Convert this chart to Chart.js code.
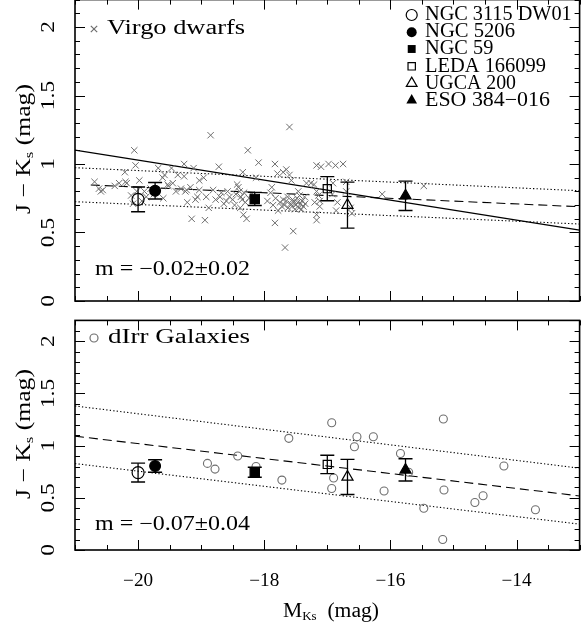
<!DOCTYPE html>
<html><head><meta charset="utf-8">
<script src="https://cdn.jsdelivr.net/npm/chart.js@4.4.0/dist/chart.umd.min.js"></script>
<style>
html,body{margin:0;padding:0;background:#fff;overflow:hidden}
#wrap{position:relative;width:588px;height:622px;background:#fff;overflow:hidden}
canvas{position:absolute;left:0}
#c1{top:-10px}
#c2{top:312px}
</style></head><body>
<div id="wrap"><canvas id="c1" width="588" height="322"></canvas><canvas id="c2" width="588" height="310"></canvas></div>
<script>
// ---------- data ----------
const galaxyNames = ['NGC 3115 DW01', 'NGC 5206', 'NGC 59', 'LEDA 166099', 'UGCA 200', 'ESO 384\u2212016'];
const galaxyX   = [-20.00, -19.73, -18.15, -17.00, -16.68, -15.76];
const galaxyY   = [0.742, 0.805, 0.745, 0.820, 0.700, 0.768];
const galaxyErr = [0.090, 0.060, 0.048, 0.088, 0.168, 0.107];

const virgoX = [-20.69,-20.62,-20.59,-20.56,-20.37,-20.21,-20.20,-20.18,-20.06,-20.04,-19.98,-20.11,-20.08,-20.02,-19.90,-19.87,-19.94,
 -19.68,-19.61,-19.58,-19.53,-19.47,-19.60,-19.52,-19.45,-19.40,-19.27,-19.27,-19.32,-19.25,-19.22,-19.23,-19.17,-19.12,-19.09,-19.03,-19.03,-19.15,-19.06,
 -18.96,-18.94,-18.88,-18.85,-18.81,-18.77,-18.72,-18.70,-18.64,-18.60,-18.55,-18.50,-18.45,-18.43,-18.41,-18.39,-18.37,-18.35,-18.34,-18.38,-18.33,-18.28,-18.26,-18.30,-18.13,-18.09,-18.20,
 -17.95,-17.90,-17.86,-17.83,-17.83,-17.82,-17.79,-17.75,-17.72,-17.70,-17.68,-17.67,-17.65,-17.65,-17.62,-17.60,-17.60,-17.58,-17.57,-17.56,-17.54,-17.53,-17.50,-17.48,-17.46,-17.45,-17.42,-17.40,-17.38,-17.36,-17.33,-17.26,-17.21,-17.17,-17.10,-17.17,-17.17,-17.12,-17.12,-17.20,
 -16.98,-16.87,-16.75,-16.84,-16.86,-16.92,-16.70,-16.70,-16.61,-16.63,-16.13,-15.47,
 -18.58,-18.47,-18.32,-18.24,-17.78,-17.70,-17.63,-17.55,-17.51,-17.47,-17.44,-17.41,-17.35,-19.80,-19.75,-18.92,-18.68,-20.30,-19.37,-17.88,-17.17,-17.14,-16.91];
const virgoY = [0.87,0.82,0.80,0.81,0.84,0.94,0.87,0.86,1.10,0.99,0.88,0.77,0.71,0.80,0.80,0.76,0.73,
 0.97,0.90,0.92,0.85,0.97,0.75,0.84,0.86,0.80,1.00,0.91,0.82,0.80,0.72,0.81,0.83,0.97,0.74,0.88,0.81,0.60,0.76,
 0.90,0.59,0.68,1.21,0.81,0.74,0.98,0.76,0.71,0.73,0.76,0.74,0.78,0.85,0.83,0.80,0.76,0.74,0.94,0.68,0.63,0.60,1.10,0.72,0.90,1.01,0.78,
 0.73,0.79,0.70,1.00,0.57,0.75,0.93,0.72,0.69,0.94,0.70,0.39,0.96,0.73,0.68,1.27,0.92,0.71,0.88,0.69,0.51,0.72,0.70,0.75,0.80,0.68,0.71,0.73,0.69,0.76,0.86,0.86,0.85,0.99,0.98,0.63,0.59,0.69,0.73,0.72,
 1.00,0.99,1.00,0.72,0.66,0.78,0.87,0.80,0.64,0.68,0.78,0.84,
 0.80,0.70,0.79,0.75,0.66,0.74,0.76,0.74,0.67,0.72,0.77,0.67,0.71,0.82,0.78,0.76,0.79,0.86,0.92,0.83,0.80,0.77,0.86];

const dIrrX = [-18.90,-18.78,-18.42,-18.13,-17.72,-17.61,-16.93,-16.53,-16.27,-16.57,-16.90,-16.93,-16.10,-15.84,-15.71,-15.47,-15.16,-15.15,-15.17,-14.66,-14.53,-14.20,-13.70];
const dIrrY = [0.830,0.775,0.900,0.800,0.670,1.070,1.220,1.085,1.085,0.990,0.690,0.590,0.565,0.925,0.745,0.400,1.255,0.575,0.100,0.455,0.520,0.805,0.385];

// fit lines (end points)
const fitX        = [-21, -13];
const topSolidY   = [1.102, 0.518];
const topDashX    = [-20.75, -13];
const topDashY    = [0.847, 0.688];
const topUpperY   = [0.973, 0.805];
const topLowerY   = [0.725, 0.562];
const botDashY    = [1.091, 0.518];
const botUpperY   = [1.380, 0.784];
const botLowerY   = [0.828, 0.248];

// axes
const xMin = -21, xMax = -13, yMin = 0, yMax = 2.2;
const xTickLabelValues = [-20, -18, -16, -14];
const xTickLabels = ['\u221220', '\u221218', '\u221216', '\u221214'];
const yTickLabelValues = [0, 0.5, 1, 1.5, 2];
const yTickLabels = ['0', '0.5', '1', '1.5', '2'];
const topSlopeText = 'm = \u22120.02\u00b10.02';
const botSlopeText = 'm = \u22120.07\u00b10.04';

// ---------- helpers ----------
const GRAY = 'rgb(110,110,110)';
const FONT = '"Liberation Serif", "DejaVu Serif", serif';
const pts = (xs, ys) => xs.map((x, i) => ({x: x, y: ys[i]}));

function errStems() {
  const d = [];
  galaxyX.forEach((x, i) => { d.push({x: x, y: galaxyY[i] - galaxyErr[i]}, {x: x, y: galaxyY[i] + galaxyErr[i]}, {x: x, y: null}); });
  return d;
}
function errCaps() {
  const d = [];
  galaxyX.forEach((x, i) => { d.push({x: x, y: galaxyY[i] - galaxyErr[i]}, {x: x, y: galaxyY[i] + galaxyErr[i]}); });
  return d;
}
const markStyle  = ['circle', 'circle', 'rect', 'rect', 'triangle', 'triangle'];
const markRadius = [6, 5.4, 6.6, 5.8, 6.4, 6.4];
const markFill   = ['rgba(0,0,0,0)', '#000', '#000', 'rgba(0,0,0,0)', 'rgba(0,0,0,0)', '#000'];

function lineDs(xs, ys, dash, width) {
  return {type: 'scatter', data: pts(xs, ys), showLine: true, pointRadius: 0, borderColor: '#000',
          borderWidth: width || 1, borderDash: dash || [], fill: false, tension: 0};
}

function galaxyDatasets() {
  return [
    {data: pts(galaxyX, galaxyY), pointStyle: markStyle, pointRadius: markRadius, pointBackgroundColor: markFill,
     pointBorderColor: '#000', pointBorderWidth: 1.2, showLine: false},
    {data: errCaps(), pointStyle: 'line', pointRadius: 7, pointBorderColor: '#000', pointBorderWidth: 1.4, showLine: false},
    {data: errStems(), showLine: true, spanGaps: false, pointRadius: 0, borderColor: '#000', borderWidth: 1.3}
  ];
}

function drawText(ctx, parts, x, y, o) {
  o = o || {};
  ctx.save();
  ctx.translate(x, y);
  if (o.rot) ctx.rotate(o.rot);
  let total = 0;
  const ws = parts.map(p => { ctx.font = p.size + 'px ' + FONT; const w = ctx.measureText(p.t).width; total += w; return w; });
  const sx = o.w ? o.w / total : (o.sx || 1);
  ctx.scale(sx, 1);
  let cx = o.align === 'center' ? -total / 2 : 0;
  ctx.textBaseline = 'middle'; ctx.textAlign = 'left'; ctx.fillStyle = '#000';
  parts.forEach((p, i) => { ctx.font = p.size + 'px ' + FONT; ctx.fillText(p.t, cx, p.dy || 0); cx += ws[i]; });
  ctx.restore();
}

function drawMarker(ctx, style, x, y, r, filled, color) {
  ctx.save();
  ctx.strokeStyle = color || '#000'; ctx.fillStyle = color || '#000'; ctx.lineWidth = 1.2;
  ctx.beginPath();
  if (style === 'circle') { ctx.arc(x, y, r, 0, Math.PI * 2); }
  else if (style === 'rect') { const s = r * Math.SQRT1_2; ctx.rect(x - s, y - s, 2 * s, 2 * s); }
  else if (style === 'triangle') {
    for (let k = 0; k < 3; k++) { const a = k * 2 * Math.PI / 3; const px = x + Math.sin(a) * r, py = y - Math.cos(a) * r; k ? ctx.lineTo(px, py) : ctx.moveTo(px, py); }
    ctx.closePath();
  } else if (style === 'cross') {
    const s = r * Math.SQRT1_2; ctx.moveTo(x - s, y - s); ctx.lineTo(x + s, y + s); ctx.moveTo(x + s, y - s); ctx.lineTo(x - s, y + s);
  }
  if (filled) ctx.fill(); else ctx.stroke();
  ctx.restore();
}

function framePlugin(cfg) {
  return {
    id: 'frame_' + cfg.name,
    afterDraw(chart) {
      const ctx = chart.ctx, a = chart.chartArea, xs = chart.scales.x, ys = chart.scales.y;
      const oy = cfg.offsetY; // page y -> canvas y: subtract offset
      ctx.save();
      // ticks
      ctx.strokeStyle = '#000'; ctx.lineWidth = 1;
      ctx.beginPath();
      for (let k = 0; k <= 16; k++) {
        const v = xMin + k * 0.5;
        const major = xTickLabelValues.indexOf(v) >= 0;
        const L = major ? 10 : 5;
        const px = Math.round(xs.getPixelForValue(v)) + 0.5;
        ctx.moveTo(px, a.top); ctx.lineTo(px, a.top + L);
        ctx.moveTo(px, a.bottom); ctx.lineTo(px, a.bottom - L);
      }
      for (let k = 0; k <= 22; k++) {
        const v = k / 10;
        const major = k % 5 === 0;
        const L = major ? 10 : 5;
        const py = Math.round(ys.getPixelForValue(v)) + 0.5;
        ctx.moveTo(a.left, py); ctx.lineTo(a.left + L, py);
        ctx.moveTo(a.right, py); ctx.lineTo(a.right - L, py);
      }
      ctx.stroke();
      // frame
      ctx.lineWidth = 1.6;
      ctx.strokeRect(a.left, a.top, a.right - a.left, a.bottom - a.top);
      // y tick labels
      yTickLabelValues.forEach((v, i) => {
        drawText(ctx, [{t: yTickLabels[i], size: 18}], 49, ys.getPixelForValue(v), {rot: -Math.PI / 2, align: 'center', sx: 1.3});
      });
      // y title
      drawText(ctx, [{t: 'J \u2212 K', size: 20}, {t: 's', size: 13, dy: 5}, {t: ' (mag)', size: 20}],
               25, cfg.yTitleY - oy, {rot: -Math.PI / 2, align: 'center', w: 130});
      if (cfg.xLabels) {
        xTickLabelValues.forEach((v, i) => {
          drawText(ctx, [{t: xTickLabels[i], size: 18}], xs.getPixelForValue(v), 581 - oy, {align: 'center', w: 30});
        });
        drawText(ctx, [{t: 'M', size: 20}, {t: 'Ks', size: 12, dy: 5}, {t: '  (mag)', size: 20}], 331, 612 - oy, {align: 'center', w: 96});
      }
      cfg.extra(ctx, oy);
      ctx.restore();
    }
  };
}

const commonOptions = (pad) => ({
  responsive: false, animation: false, events: [],
  layout: {padding: pad},
  plugins: {legend: {display: false}, tooltip: {enabled: false}},
  scales: {
    x: {type: 'linear', min: xMin, max: xMax, display: false},
    y: {type: 'linear', min: yMin, max: yMax, display: false}
  }
});

const DOT = [1.3, 2.2];
const DASH = [9, 5];

// ---------- top panel ----------
new Chart(document.getElementById('c1'), {
  type: 'scatter',
  data: {datasets: [
    ...galaxyDatasets(),
    {data: pts(virgoX, virgoY), pointStyle: 'crossRot', pointRadius: 4.5, pointBorderColor: GRAY, pointBorderWidth: 1, showLine: false},
    lineDs(fitX, topSolidY, [], 1.3),
    lineDs(topDashX, topDashY, DASH, 1.1),
    lineDs(fitX, topUpperY, DOT, 1.1),
    lineDs(fitX, topLowerY, DOT, 1.1)
  ]},
  options: commonOptions({left: 75, right: 4, top: 9.6, bottom: 11}),
  plugins: [framePlugin({name: 'top', offsetY: -10, yTitleY: 149, xLabels: false, extra: (ctx, oy) => {
    drawMarker(ctx, 'cross', 94, 29 - oy, 4.5, false, GRAY);
    drawText(ctx, [{t: 'Virgo dwarfs', size: 20}], 107, 29 - oy, {w: 138});
    drawText(ctx, [{t: topSlopeText, size: 20}], 95, 270 - oy, {w: 155});
    const ly = [15, 32.2, 49, 66.3, 83.3, 100.3];
    const lw = [146.7, 90, 68.3, 121, 91, 125];
    const lr = [5.5, 5, 5.6, 5.2, 6.2, 6.2];
    galaxyNames.forEach((n, i) => {
      drawMarker(ctx, markStyle[i], 411.7, ly[i] - oy, lr[i], markFill[i] === '#000');
      drawText(ctx, [{t: n, size: 20}], 425, ly[i] - oy, {w: lw[i]});
    });
  }})]
});

// ---------- bottom panel ----------
new Chart(document.getElementById('c2'), {
  type: 'scatter',
  data: {datasets: [
    ...galaxyDatasets(),
    {data: pts(dIrrX, dIrrY), pointStyle: 'circle', pointRadius: 4, pointBackgroundColor: 'rgba(0,0,0,0)', pointBorderColor: GRAY, pointBorderWidth: 1.1, showLine: false},
    lineDs(fitX, botDashY, DASH, 1.1),
    lineDs(fitX, botUpperY, DOT, 1.1),
    lineDs(fitX, botLowerY, DOT, 1.1)
  ]},
  options: commonOptions({left: 75, right: 4, top: 1.5, bottom: 72}),
  plugins: [framePlugin({name: 'bot', offsetY: 312, yTitleY: 434, xLabels: true, extra: (ctx, oy) => {
    drawMarker(ctx, 'circle', 94, 338 - oy, 4, false, GRAY);
    drawText(ctx, [{t: 'dIrr Galaxies', size: 20}], 108, 338 - oy, {w: 142});
    drawText(ctx, [{t: botSlopeText, size: 20}], 95, 525 - oy, {w: 155});
  }})]
});
</script>
</body></html>
